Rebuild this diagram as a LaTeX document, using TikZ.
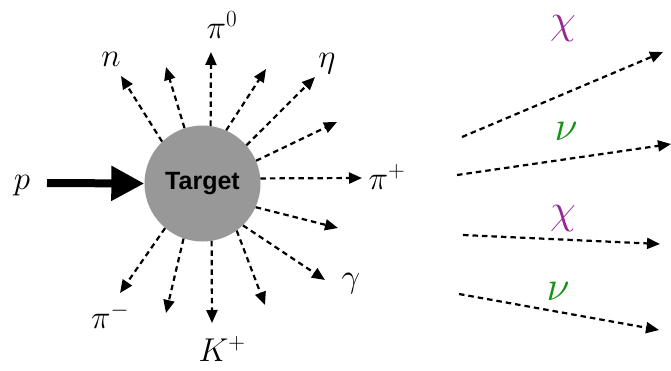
\RequirePackage{fix-cm}
\documentclass[tikz,border=0pt]{standalone}
\usepackage{fontspec}
\newfontfamily\labelfont{Liberation Sans}
\usetikzlibrary{arrows.meta}

\definecolor{targetgray}{RGB}{152,152,152}
\definecolor{chicolor}{RGB}{150,40,150}
\definecolor{nucolor}{RGB}{20,145,20}

\begin{document}
\begin{tikzpicture}[x=1pt,y=-1pt,
  decay/.style={line width=2.2pt, dash pattern=on 5.5pt off 4pt, -{Triangle[length=13pt,width=11pt]}},
  particle/.style={font=\fontsize{33}{35}\selectfont, inner sep=0pt, anchor=base},
  invisible/.style={particle, font=\fontsize{42}{44}\selectfont}]
\useasboundingbox (0,0) rectangle (671,370);

% Target
\node[circle, fill=targetgray, minimum size=116pt, inner sep=0pt,
  font=\labelfont\bfseries\fontsize{25}{27}\selectfont] (target) at (202.5,183.5) {Target};

% Incoming proton
\node[particle] (p) at (22,189) {$p$};
\draw[line width=8pt, -{Triangle[length=33pt,width=33pt]}] (47,183) -- (target.west);

% Outgoing particles
\foreach \ang/\x/\y in {134/121/76, 108/166/67, 82/211/52, 66/266/69,
  41/315/77, 23/337/122, 5/362/178, -24/338/228, -46/325/280,
  -54/265/305, -81/212/323, -109/166/313, -130/120/293} {
  \draw[decay] (target.\ang) -- (\x,\y);
}

% Labels
\node[particle] (n) at (111,66) {$n$};
\node[particle] (pizero) at (222,38) {$\pi^0$};
\node[particle] (eta) at (327,67) {$\eta$};
\node[particle] (piplus) at (387,189) {$\pi^+$};
\node[particle] (gamma) at (351,287) {$\gamma$};
\node[particle] (kplus) at (222,361) {$K^+$};
\node[particle] (piminus) at (110,328) {$\pi^-$};

% Long-lived products
\coordinate (chiAs) at (462,137); \coordinate (chiAe) at (663,52);
\coordinate (nuAs) at (457,175); \coordinate (nuAe) at (671,144);
\coordinate (chiBs) at (463,235); \coordinate (chiBe) at (660,244);
\coordinate (nuBs) at (459,294); \coordinate (nuBe) at (659,330);
\draw[decay] (chiAs) -- (chiAe);
\draw[decay] (nuAs) -- (nuAe);
\draw[decay] (chiBs) -- (chiBe);
\draw[decay] (nuBs) -- (nuBe);
\node[invisible, chicolor] (chiA) at (563,33) {$\chi$};
\node[invisible, nucolor] (nuA) at (566,140) {$\nu$};
\node[invisible, chicolor] (chiB) at (563,223) {$\chi$};
\node[invisible, nucolor] (nuB) at (558,300) {$\nu$};
\end{tikzpicture}
\end{document}
